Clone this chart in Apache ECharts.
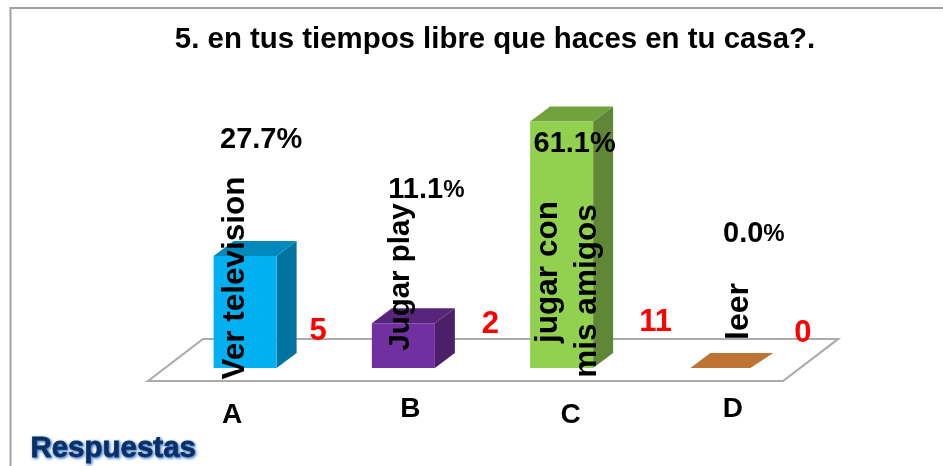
<!DOCTYPE html>
<html><head><meta charset="utf-8">
<style>html,body{margin:0;padding:0;background:#fff}#c{width:943px;height:466px}</style>
<script src="https://cdn.jsdelivr.net/npm/echarts@6/dist/echarts.min.js"></script>
</head><body><div id="c"></div>
<script>
const titleText = '5. en tus tiempos libre que haces en tu casa?.';
const axisName = 'Respuestas';
const categories = ['A', 'B', 'C', 'D'];
const counts = [5, 2, 11, 0];
const percents = ['27.7', '11.1', '61.1', '0.0'];
const activities = [['Ver television'], ['Jugar play'], ['jugar con', 'mis amigos'], ['leer']];

const faceColors = [
  ['#00B0F0', '#00749E', '#0089BB'],
  ['#7030A0', '#4A2069', '#57257C'],
  ['#92D050', '#5F8736', '#71A23E'],
  ['#BE7534', '#A5652C', '#BE7534']
];
const FONT = '"Liberation Sans", Arial, sans-serif';
const DX = 20, DY = -15, HALF = 31.5;
// label placement, as offsets from each bar's base centre
const pctOffset = [[16, -228], [23, -178], [13, -224], [34, -134]];
const pctUnitSize = [29, 24, 29, 24];
const countOffset = [[73, -37], [87, -44], [94, -46], [83, -35]];
const catOffset = [[-13, 47], [7, 41], [9, 47], [13, 41]];
const activityOffset = [[[-9.5, -90]], [[-3, -91]], [[-13, -96], [26, -77]], [[19.5, -56.5]]];
const activitySize = [31.5, 29.5, 31.5, 32];

const chart = echarts.init(document.getElementById('c'), null, {renderer: 'canvas'});
const rows = categories.map((c, i) => [c, counts[i]]);

function barItem(params, api) {
  const i = params.dataIndex;
  const base = api.coord([api.value(0), 0]);
  const top = api.coord([api.value(0), api.value(1)]);
  const L = base[0] - HALF, R = base[0] + HALF, B = base[1], T = top[1];
  const c = faceColors[i];
  const poly = (pts, fill) => ({type: 'polygon', shape: {points: pts}, style: {fill}});
  if (api.value(1) === 0) {
    return {type: 'group', children: [poly([[L + 2, B], [R - 1, B], [R + DX + 2, B + DY], [L + DX + 2, B + DY]], c[0])]};
  }
  return {type: 'group', children: [
    poly([[R, T], [R + DX, T + DY], [R + DX, B + DY], [R, B]], c[1]),
    poly([[L, T], [L + DX, T + DY], [R + DX, T + DY], [R, T]], c[2]),
    poly([[L, T], [R, T], [R, B], [L, B]], c[0])
  ]};
}

function labelItem(params, api) {
  const i = params.dataIndex;
  const base = api.coord([api.value(0), 0]);
  const text = (o, content, size, fill, rot, extra) => ({
    type: 'text', x: base[0] + o[0], y: base[1] + o[1], rotation: rot || 0,
    style: Object.assign({text: content, fill, font: 'bold ' + size + 'px ' + FONT, align: 'center', verticalAlign: 'middle'}, extra || {})
  });
  const lines = activities[i].map((t, k) => text(activityOffset[i][k], t, activitySize[i], '#000', Math.PI / 2));
  return {type: 'group', children: lines.concat([
    text(pctOffset[i], '{n|' + percents[i] + '}{u|%}', 29, '#000', 0, {
      rich: {n: {font: 'bold 29px ' + FONT, fill: '#000'}, u: {font: 'bold ' + pctUnitSize[i] + 'px ' + FONT, fill: '#000'}}
    }),
    text(countOffset[i], String(counts[i]), 31, '#FF0000'),
    text(catOffset[i], categories[i], 28, '#000')
  ])};
}

chart.setOption({
  animation: false,
  backgroundColor: '#fff',
  title: {
    text: titleText, left: 490, top: 20, textAlign: 'center',
    textStyle: {fontFamily: FONT, fontWeight: 'bold', fontSize: 29.4, color: '#000'}
  },
  grid: {left: 166, width: 633, top: 38, height: 330},
  xAxis: {type: 'category', data: categories, show: false},
  yAxis: {type: 'value', min: 0, max: 14.732, show: false},
  graphic: [
    {type: 'polygon', z: 0, shape: {points: [[148, 381], [203, 339], [838, 339], [783, 381]]},
      style: {fill: '#fff', stroke: '#ABABAB', lineWidth: 2.2}},
    {type: 'polyline', z: 0, shape: {points: [[10.5, 466], [10.5, 8], [943, 8]]},
      style: {fill: 'none', stroke: '#A0A0A0', lineWidth: 2}},
    {type: 'text', z: 5, left: 30, top: 433, style: {
      text: axisName, fill: '#0B2F63', font: 'bold 29.5px ' + FONT,
      stroke: '#0B2F63', lineWidth: 0.8,
      textShadowBlur: 3, textShadowColor: '#2E6FC0', textShadowOffsetX: 1, textShadowOffsetY: 1,
      shadowBlur: 4, shadowColor: '#3C78C8', shadowOffsetX: 1, shadowOffsetY: 1}}
  ],
  series: [
    {type: 'custom', coordinateSystem: 'cartesian2d', data: rows, renderItem: barItem, z: 2, silent: true, clip: false},
    {type: 'custom', coordinateSystem: 'cartesian2d', data: rows, renderItem: labelItem, z: 3, silent: true, clip: false}
  ]
});
</script></body></html>
